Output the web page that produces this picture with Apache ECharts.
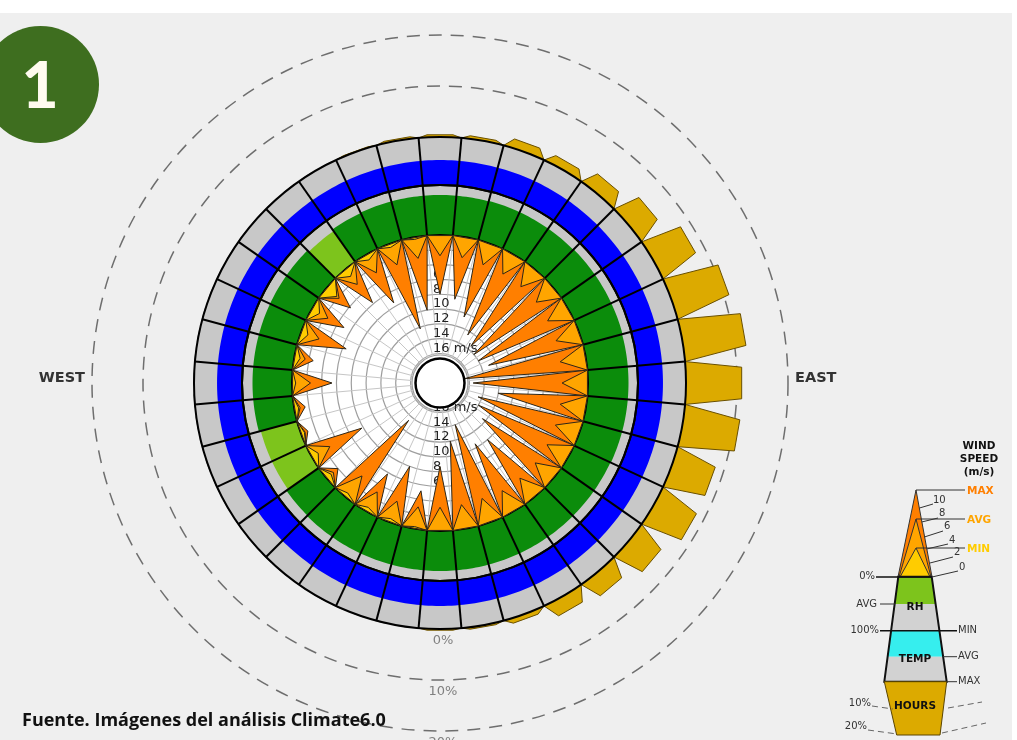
<!DOCTYPE html>
<html>
<head>
<meta charset="utf-8">
<script src="https://cdn.jsdelivr.net/npm/echarts@6/dist/echarts.min.js"></script>
<style>
  html, body { margin: 0; padding: 0; background: #ffffff; }
  #chart { width: 1017px; height: 740px; }
</style>
</head>
<body>
<div id="chart"></div>
<script>
// Wind wheel: 36 compass sectors, 10 degrees each (clockwise from north)
const directions = [0, 10, 20, 30, 40, 50, 60, 70, 80, 90, 100, 110, 120, 130, 140, 150, 160, 170,
                    180, 190, 200, 210, 220, 230, 240, 250, 260, 270, 280, 290, 300, 310, 320, 330, 340, 350];

// Wind speed per sector (m/s)
const windMax = [8, 8.5, 10.5, 12.5, 13.5, 14, 14, 13, 16.6, 15.5, 12, 14.5, 14, 12.5, 10, 10.5, 14, 12,
                 8.7, 5.2, 8, 5.8, 13.4, 2, 7.8, 1, 1.5, 5.4, 2.6, 6.5, 5, 4.2, 5.8, 7.5, 12.2, 10];
const windAvg = [2.8, 2.8, 3, 3, 3, 3, 3.2, 3.3, 3.5, 3.5, 3.5, 3.4, 3.3, 3.2, 3.2, 3.2, 3.4, 3.3,
                 3.2, 3, 3, 3, 3.6, 1.2, 2.8, 0.6, 0.8, 2.5, 1.5, 2.6, 2.5, 2.2, 2.6, 2.8, 3, 2.9];
const windMin = [0, 0, 0, 0, 0, 0, 0, 0, 0, 0, 0, 0, 0, 0, 0, 0, 0, 0,
                 0, 0.3, 0.5, 0.6, 0.6, 0.8, 1, 0.5, 0.6, 0.5, 0.8, 1, 1.2, 1.8, 1.2, 0.8, 0.5, 0.3];

// Average relative humidity per sector (%)
const rhAvg = [80, 80, 81, 81, 81, 82, 82, 82, 81, 81, 81, 81, 80, 80, 80, 80, 80, 80,
               80, 80, 80, 80, 80, 79, 75, 75, 79, 79, 79, 79, 79, 79, 75, 79, 80, 80];

// Average temperature position between sector min (0) and max (100)
const tempAvgPct = [52, 52, 52, 52, 52, 52, 52, 52, 52, 52, 52, 52, 52, 52, 52, 52, 52, 52,
                    52, 52, 52, 52, 52, 52, 52, 52, 52, 52, 52, 52, 52, 52, 52, 52, 52, 52];

// Share of hours with wind from each sector (%)
const hoursPct = [0.5, 0.6, 1.8, 1.8, 3.1, 5.1, 8, 11, 12.2, 11, 11, 8.2, 8.2, 6, 4, 3, 1, 0.4,
                  0.3, 0, 0, 0, 0, 0, 0, 0, 0, 0, 0, 0, 0, 0, 0, 0, 0.2, 0.4];

// Tick labels
const speedTicks = [6, 8, 10, 12, 14, 16];
const hoursTicks = [0, 10, 20];
const compassNames = ['EAST', 'WEST'];
const compassAngles = [90, 270];

// ---------------------------------------------------------------------------
const CX = 440, CY = 383;
const HALF = 5;                 // half sector width, degrees
const BAR_TOP_HALF = 3;         // hours bars narrow towards their outer edge
const C_GRAY = '#c8c8c8';
const C_GREEN = '#0b8c0b';
const C_LGREEN = '#7dc41c';
const C_BLUE = '#0000ff';
const C_MAX = '#ff7f00';
const C_AVG = '#ffa500';
const C_MIN = '#ffcc00';
const C_HOURS = '#dcaa00';
const FONT = '"DejaVu Sans", Verdana, sans-serif';

function ringPoints(api, r0, r1, a0, a1) {
  const pts = [];
  for (let a = a0; a <= a1 + 1e-6; a += 1) pts.push(api.coord([r1, a]));
  for (let a = a1; a >= a0 - 1e-6; a -= 1) pts.push(api.coord([r0, a]));
  return pts;
}
function pixelRadius(params, api, v) {
  const p = api.coord([v, 0]);
  return Math.hypot(p[0] - params.coordSys.cx, p[1] - params.coordSys.cy);
}

function angleAxisFor(i, split) {
  return {
    polarIndex: i, type: 'value', min: -5, max: 355, interval: 10, startAngle: 95, clockwise: true,
    axisLine: { show: false }, axisTick: { show: false }, axisLabel: { show: false },
    splitLine: { show: split, lineStyle: { color: '#c6c6c6', width: 1 } }
  };
}
function hiddenRadius(i, extra) {
  return Object.assign({
    polarIndex: i, type: 'value',
    axisLine: { show: false }, axisTick: { show: false }, axisLabel: { show: false },
    splitLine: { show: false }
  }, extra);
}

// Fill + frame for a ring (RH or temperature)
function ringFillSeries(polarIndex, values, colorFor, z) {
  return {
    type: 'custom', coordinateSystem: 'polar', polarIndex, z, silent: true,
    data: directions.map((d, i) => [d, values[i]]),
    renderItem(params, api) {
      const d = api.value(0), v = api.value(1);
      return {
        type: 'group', children: [
          { type: 'polygon', shape: { points: ringPoints(api, 0, 100, d - HALF, d + HALF) }, style: { fill: C_GRAY } },
          { type: 'polygon', shape: { points: ringPoints(api, 0, v, d - HALF, d + HALF) }, style: { fill: colorFor(v) } }
        ]
      };
    }
  };
}
function ringFrameSeries(polarIndex, z) {
  return {
    type: 'custom', coordinateSystem: 'polar', polarIndex, z, silent: true,
    data: directions.map(d => [d, 0]),
    renderItem(params, api) {
      const d = api.value(0);
      const children = [{
        type: 'polyline',
        shape: { points: [api.coord([0, d - HALF]), api.coord([100, d - HALF])] },
        style: { stroke: '#000', lineWidth: 2, fill: null }
      }];
      if (params.dataIndex === 0) {
        [0, 100].forEach(v => children.push({
          type: 'circle',
          shape: { cx: params.coordSys.cx, cy: params.coordSys.cy, r: pixelRadius(params, api, v) },
          style: { fill: 'none', stroke: '#000', lineWidth: 2 }
        }));
      }
      return { type: 'group', children };
    }
  };
}

const series = [
  // Hours bars outside the wheel
  {
    type: 'custom', coordinateSystem: 'polar', polarIndex: 3, z: 2, silent: true,
    data: directions.map((d, i) => [d, hoursPct[i]]),
    renderItem(params, api) {
      const d = api.value(0), h = api.value(1);
      if (!(h > 0)) return null;
      return {
        type: 'polygon',
        shape: { points: [api.coord([0, d - HALF]), api.coord([h, d - BAR_TOP_HALF]),
                          api.coord([h, d + BAR_TOP_HALF]), api.coord([0, d + HALF])] },
        style: { fill: C_HOURS, stroke: '#6a5000', lineWidth: 1 }
      };
    }
  },
  ringFillSeries(1, rhAvg, v => (v < 78 ? C_LGREEN : C_GREEN), 3),
  ringFillSeries(2, tempAvgPct, () => C_BLUE, 3),
  ringFrameSeries(1, 5),
  ringFrameSeries(2, 5),
  // Speed scale labels above and below the hub
  {
    type: 'custom', coordinateSystem: 'polar', polarIndex: 0, z: 6, silent: true,
    data: speedTicks.map(v => [v, 0]),
    renderItem(params, api) {
      const v = api.value(0);
      const label = v === 16 ? '16 m/s' : String(v);
      return {
        type: 'group', children: [0, 180].map(a => {
          const p = api.coord([v, a]);
          return {
            type: 'text', x: p[0] - 7, y: p[1] - 5,
            style: { text: label, fill: '#222', font: '13px ' + FONT, align: 'left', verticalAlign: 'middle' }
          };
        })
      };
    }
  },
  // Wind speed spikes: max, average, min
  {
    type: 'custom', coordinateSystem: 'polar', polarIndex: 0, z: 7, silent: true,
    data: directions.map((d, i) => [d, windMax[i], windAvg[i], windMin[i]]),
    renderItem(params, api) {
      const d = api.value(0);
      const b0 = api.coord([0, d - HALF]), b1 = api.coord([0, d + HALF]);
      const fills = [C_MAX, C_AVG, C_MIN];
      const children = [];
      [1, 2, 3].forEach((k, j) => {
        const v = api.value(k);
        if (v > 0) children.push({
          type: 'polygon', shape: { points: [b0, api.coord([v, d]), b1] },
          style: { fill: fills[j], stroke: '#2e2618', lineWidth: 1 }
        });
      });
      return { type: 'group', children };
    }
  },
  // Hub
  {
    type: 'custom', coordinateSystem: 'polar', polarIndex: 0, z: 8, silent: true,
    data: [[16.2, 0]],
    renderItem(params, api) {
      return {
        type: 'circle',
        shape: { cx: params.coordSys.cx, cy: params.coordSys.cy, r: pixelRadius(params, api, api.value(0)) - 3.5 },
        style: { fill: '#fff', stroke: '#000', lineWidth: 2.5 }
      };
    }
  },
  // Hours scale labels
  {
    type: 'custom', coordinateSystem: 'polar', polarIndex: 3, z: 9, silent: true,
    data: hoursTicks.map(v => [v, 180]),
    renderItem(params, api) {
      const v = api.value(0);
      const p = api.coord([v, 180]);
      return {
        type: 'text', x: p[0] + 3, y: p[1] + 12,
        style: { text: v + '%', fill: '#808080', font: '13px ' + FONT, align: 'center', verticalAlign: 'middle' }
      };
    }
  },
  // Compass labels
  {
    type: 'custom', coordinateSystem: 'polar', polarIndex: 3, z: 9, silent: true,
    data: compassAngles.map(a => [20, a]),
    renderItem(params, api) {
      const a = api.value(1);
      const p = api.coord([api.value(0), a]);
      const east = a < 180;
      return {
        type: 'text', x: p[0] + (east ? 7 : -7), y: p[1] - 5,
        style: { text: compassNames[params.dataIndex], fill: '#333', font: 'bold 14.5px ' + FONT,
                 align: east ? 'left' : 'right', verticalAlign: 'middle' }
      };
    }
  }
];

// Legend glyph (bottom right)
function poly(points, fill, stroke, lw) {
  return { type: 'polygon', z: 10, shape: { points }, style: { fill, stroke: stroke || null, lineWidth: lw || 1 } };
}
function seg(x1, y1, x2, y2, dash, color, lw) {
  return { type: 'line', z: 11, shape: { x1, y1, x2, y2 }, style: { stroke: color || '#333', lineWidth: lw || 1, lineDash: dash || null } };
}
function txt(x, y, text, font, fill, align) {
  return { type: 'text', z: 12, x, y, style: { text, font, fill, align: align || 'left', verticalAlign: 'middle' } };
}
const LF = '10px ' + FONT, LB = 'bold 10.5px ' + FONT;
const legend = [
  txt(979, 446, 'WIND', LB, '#111', 'center'),
  txt(979, 459, 'SPEED', LB, '#111', 'center'),
  txt(979, 472, '(m/s)', LB, '#111', 'center'),
  poly([[916, 490], [932, 577], [898, 577]], C_MAX, '#333', 1),
  poly([[916, 519], [931, 577], [899, 577]], C_AVG, '#333', 1),
  poly([[916, 548], [930, 577], [900, 577]], C_MIN, '#333', 1),
  seg(916, 490, 965, 490), seg(916, 519, 965, 519), seg(916, 548, 965, 548),
  txt(967, 491, 'MAX', LB, C_MAX), txt(967, 520, 'AVG', LB, C_AVG), txt(967, 549, 'MIN', LB, C_MIN),
  seg(919.5, 508, 933, 504), txt(933, 500, '10', LF, '#333'),
  seg(921.7, 522, 938, 518), txt(939, 513, '8', LF, '#333'),
  seg(924.3, 537, 943, 531), txt(944, 526, '6', LF, '#333'),
  seg(926.7, 549, 948, 544), txt(949, 540, '4', LF, '#333'),
  seg(930, 563, 953, 557), txt(954, 552, '2', LF, '#333'),
  seg(932, 577, 958, 571), txt(959, 567, '0', LF, '#333'),
  poly([[898.3, 576.7], [931.7, 576.7], [935.6, 604], [894.7, 604]], C_LGREEN),
  poly([[894.7, 604], [935.6, 604], [939.4, 630.7], [891.1, 630.7]], '#d2d2d2'),
  poly([[891.1, 630.7], [939.4, 630.7], [943.1, 656.7], [887.6, 656.7]], '#36eeee'),
  poly([[887.6, 656.7], [943.1, 656.7], [946.7, 681.7], [884.3, 681.7]], '#d2d2d2'),
  poly([[898.3, 576.7], [931.7, 576.7], [946.7, 681.7], [884.3, 681.7]], 'none', '#111', 2),
  seg(876, 577, 932, 577, null, '#111', 1.5),
  seg(880, 630.7, 957, 630.7, null, '#111', 1.5),
  seg(880, 604, 895, 604), seg(943, 656.7, 957, 656.7), seg(946.7, 681.7, 957, 681.7),
  txt(875, 576, '0%', LF, '#333', 'right'),
  txt(877, 604, 'AVG', LF, '#333', 'right'),
  txt(879, 630, '100%', LF, '#333', 'right'),
  txt(958, 630, 'MIN', LF, '#333'),
  txt(958, 656, 'AVG', LF, '#333'),
  txt(958, 681, 'MAX', LF, '#333'),
  txt(915, 607, 'RH', LB, '#111', 'center'),
  txt(915, 659, 'TEMP', LB, '#111', 'center'),
  poly([[884.3, 681.7], [946.7, 681.7], [940, 735], [896.7, 735]], C_HOURS, '#5b4500', 1),
  txt(915, 706, 'HOURS', LB, '#111', 'center'),
  txt(871, 703, '10%', LF, '#333', 'right'),
  seg(872, 706, 893, 709, [6, 4], '#666'), seg(948, 708, 982, 702, [6, 4], '#666'),
  txt(867, 726, '20%', LF, '#333', 'right'),
  seg(868, 730, 897, 734, [6, 4], '#666'), seg(942, 733, 986, 723, [6, 4], '#666')
];

const graphic = [
  { type: 'rect', z: -10, shape: { x: 0, y: 13, width: 1012, height: 727 }, style: { fill: '#efefef' } },
  { type: 'circle', z: -5, shape: { cx: CX, cy: CY, r: 148 }, style: { fill: '#ffffff' } },
  { type: 'circle', z: 10, shape: { cx: 40.5, cy: 84.5, r: 58.5 }, style: { fill: '#3e6e1f' } },
  { type: 'text', z: 11, x: 40, y: 87, style: { text: '1', font: '900 64px Lato, "Open Sans", sans-serif', fill: '#fffbef', align: 'center', verticalAlign: 'middle' } },
  { type: 'text', z: 11, x: 22, y: 721, style: { text: 'Fuente. Imágenes del análisis Climate6.0', font: 'bold 18px "Open Sans", sans-serif', fill: '#111', align: 'left', verticalAlign: 'middle' } }
].concat(legend);

const option = {
  animation: false,
  backgroundColor: 'transparent',
  polar: [
    { center: [CX, CY], radius: [28, 148] },
    { center: [CX, CY], radius: [148, 198] },
    { center: [CX, CY], radius: [198, 246] },
    { center: [CX, CY], radius: [246, 348] }
  ],
  angleAxis: [angleAxisFor(0, true), angleAxisFor(1, false), angleAxisFor(2, false), angleAxisFor(3, false)],
  radiusAxis: [
    hiddenRadius(0, { min: 0, max: 16.2, interval: 2, inverse: true,
      splitLine: { show: true, lineStyle: { color: '#9e9e9e', width: 1.2 } } }),
    hiddenRadius(1, { min: 0, max: 100 }),
    hiddenRadius(2, { min: 0, max: 100 }),
    hiddenRadius(3, { min: 0, max: 20, interval: 10,
      splitLine: { show: true, lineStyle: { color: '#6e6e6e', width: 1.5, type: [13, 9] } } })
  ],
  series,
  graphic
};

const chart = echarts.init(document.getElementById('chart'), null, { renderer: 'canvas' });
chart.setOption(option);
</script>
</body>
</html>
